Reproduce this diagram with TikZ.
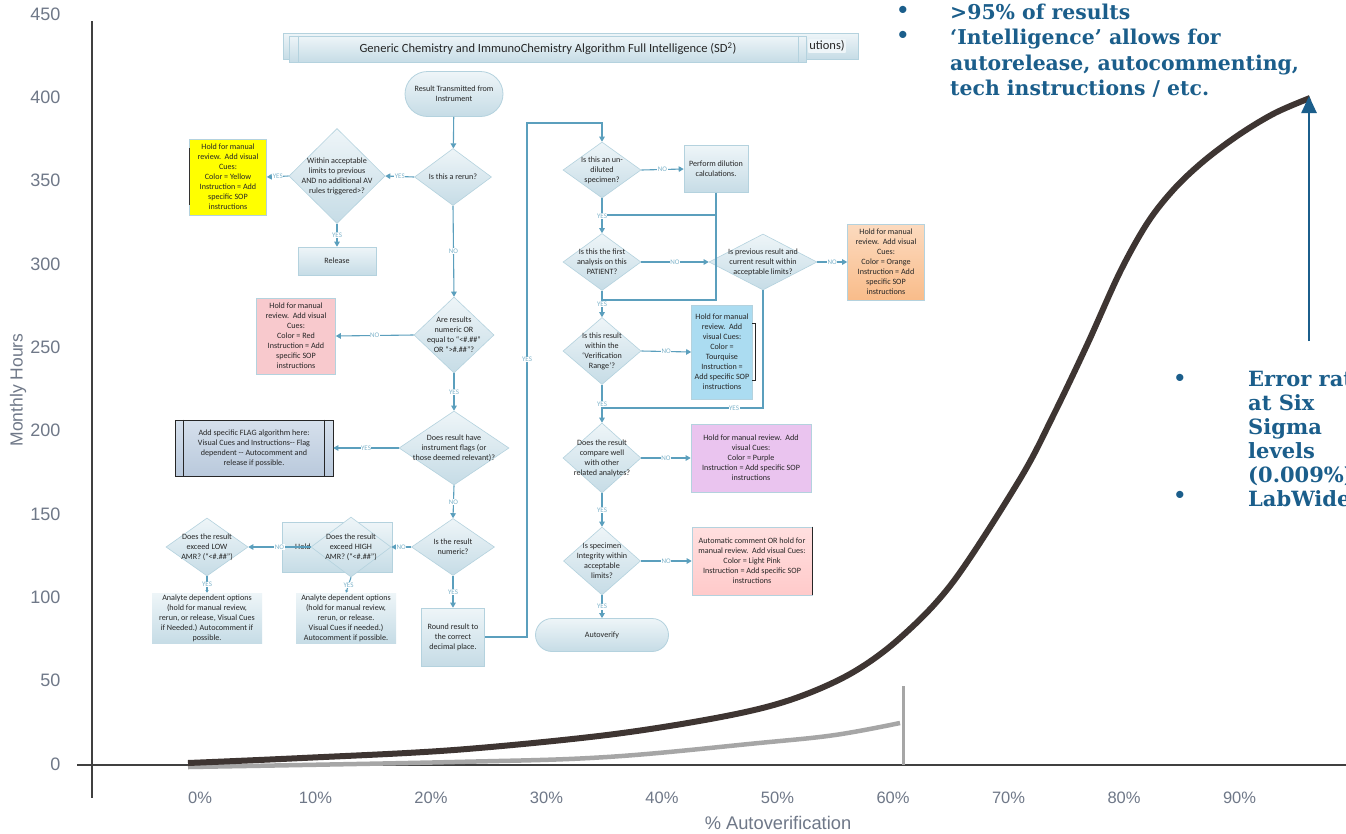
\documentclass[tikz,border=0pt]{standalone}
\usepackage{fontspec}
\usepackage{xcolor}
\usetikzlibrary{shapes.geometric, shapes.misc, arrows.meta, positioning, calc}
\newfontfamily\flowfont{Carlito}
\newfontfamily\axisfont{Liberation Sans}
\newfontfamily\notefont{DejaVu Serif}
\definecolor{flowblue}{HTML}{5B9FBD}
\definecolor{yesblue}{HTML}{7DB3CA}
\definecolor{shadetop}{HTML}{EEF5F8}
\definecolor{shadebot}{HTML}{C6DCE6}
\definecolor{shapeline}{HTML}{B4D2DE}
\definecolor{notecolor}{HTML}{1B5E8B}
\definecolor{curvedark}{HTML}{3E3532}
\definecolor{curvegray}{HTML}{A6A6A6}
\definecolor{ticktext}{HTML}{6F7888}
\definecolor{cueyellow}{HTML}{FFFF00}
\definecolor{cuered}{HTML}{F8C9CD}
\definecolor{cueorange}{HTML}{F9BC8A}
\definecolor{cueturq}{HTML}{ABDCF1}
\definecolor{cuepurple}{HTML}{EAC4EF}
\definecolor{cuepink}{HTML}{FFCACA}
\definecolor{flagtop}{HTML}{D6E0EC}
\definecolor{flagbot}{HTML}{B9C9DC}

\begin{document}
\begin{tikzpicture}[x=1pt, y=-1pt,
  decision/.style={diamond, draw=shapeline, line width=0.6pt, top color=shadetop, bottom color=shadebot, inner sep=0pt},
  dtext/.style={font=\flowfont\fontsize{8.1}{10}\selectfont, align=center, text=black!85, inner sep=0pt},
  procbox/.style={rectangle, draw=shapeline, line width=0.6pt, top color=shadetop, bottom color=shadebot, align=center, font=\flowfont\fontsize{8.1}{10}\selectfont, text=black!85, inner sep=1pt},
  cuebox/.style={rectangle, draw=shapeline, line width=0.6pt, align=center, font=\flowfont\fontsize{8.1}{10}\selectfont, text=black!85, inner sep=1pt},
  terminal/.style={rounded rectangle, draw=shapeline, line width=0.8pt, top color=shadetop, bottom color=shadebot, align=center, font=\flowfont\fontsize{8.1}{10}\selectfont, text=black!85, inner sep=1pt},
  flow/.style={draw=flowblue, line width=1.1pt, -{Triangle[length=5pt, width=5.5pt]}},
  flowline/.style={draw=flowblue, line width=1.1pt},
  yn/.style={fill=white, text=yesblue, font=\flowfont\fontsize{7}{7}\selectfont, inner sep=0.5pt},
  axisline/.style={draw=black!75, line width=1.3pt},
  ytick/.style={anchor=east, text=ticktext, font=\axisfont\fontsize{18}{20}\selectfont},
  xtick/.style={text=ticktext, font=\axisfont\fontsize{16.5}{19}\selectfont},
  note/.style={text=notecolor, font=\notefont\bfseries\fontsize{20.4}{25.4}\selectfont, align=left, inner sep=0pt}
]
  \useasboundingbox (0,0) rectangle (1346,833);
  \fill[white] (0,0) rectangle (1346,833);
  \clip (0,0) rectangle (1346,833);

  % Chart axes
  \draw[axisline] (92,21) -- (92,798);
  \draw[axisline] (77,765) -- (1346,765);
  \foreach \v [count=\i from 0] in {0,50,...,450}
    \node[ytick] (ytick\i) at (64, {764-\v*1.6667}) {\v};
  \foreach \p [count=\i from 0] in {0,10,...,90}
    \node[xtick] (xtick\i) at ({200+\p*11.55}, 798) {\p\%};
  \node[xtick, font=\axisfont\fontsize{18.3}{20}\selectfont] (xtitle) at (778,823) {\% Autoverification};
  \node[xtick, rotate=90, font=\axisfont\fontsize{17.5}{20}\selectfont] (ytitle) at (18,390) {Monthly Hours};

  % Curves
  \draw[curvegray, line width=4.5pt] plot[smooth, tension=0.6] coordinates {(188,767) (454,762) (607,757) (759,743) (835,735) (900,723)};
  \draw[curvegray, line width=3pt] (903,686) -- (903,765);
  \draw[curvedark, line width=6pt] plot[smooth, tension=0.55] coordinates {(188,763) (302,758) (454,750) (607,735) (721,717) (790,700) (850,674) (900,638) (953,582) (1020,479) (1053,416) (1087,345) (1120,272) (1148,222) (1175,188) (1205,160) (1240,134) (1275,113) (1310,98)};

  % Notes
  \coordinate (arrowfoot) at (1309,341);
  \coordinate (curvetop) at (1309,96);
  \draw[notecolor, line width=2.5pt, -{Triangle[length=17pt, width=15pt]}] (arrowfoot) -- (curvetop);
  \node[note, anchor=north west] (notetop) at (950,3.5) {>95\% of results\\‘Intelligence’ allows for\\autorelease, autocommenting,\\tech instructions / etc.};
  \node[note] (bulletA) at (903,12) {•};
  \node[note] (bulletB) at (903,37) {•};
  \node[note, font=\notefont\bfseries\fontsize{21}{24}\selectfont, anchor=north west] (noteright) at (1248,371) {Error rate\\at Six\\Sigma\\levels\\(0.009\%)\\LabWide};
  \node[note] (bulletC) at (1180,380) {•};
  \node[note] (bulletD) at (1180,497) {•};

  % Title bars
  \node[procbox, minimum width=575pt, minimum height=26pt] (titleback) at (571,46) {};
  \node[procbox, anchor=east, draw=none, top color=shadetop, bottom color=shadetop, font=\flowfont\fontsize{12.5}{14}\selectfont] (titletail) at (846,46) {utions)};
  \node[procbox, minimum width=517pt, minimum height=26pt, font=\flowfont\fontsize{12.5}{14}\selectfont] (title) at (548,49) {Generic Chemistry and ImmunoChemistry Algorithm Full Intelligence (SD\textsuperscript{2})};
  \draw[shapeline] ([xshift=9pt]title.north west) -- ([xshift=9pt]title.south west);
  \draw[shapeline] ([xshift=-9pt]title.north east) -- ([xshift=-9pt]title.south east);

  % Left column
  \node[terminal, minimum width=100pt, minimum height=45pt] (start) at (454,94) {Result Transmitted from\\Instrument};
  \node[decision, minimum width=77pt, minimum height=57pt, label={[dtext]center:{Is this a rerun?}}] (rerun) at (453,177) {};
  \node[decision, minimum width=96pt, minimum height=95pt, label={[dtext]center:{Within acceptable\\limits to previous\\AND no additional AV\\rules triggered>?}}] (within) at (337,176) {};
  \node[cuebox, fill=cueyellow, minimum width=77pt, minimum height=76pt] (yellow) at (228,177) {Hold for manual\\review.\ \ Add visual\\Cues:\\Color = Yellow\\Instruction = Add\\specific SOP\\instructions};
  \draw[black!80, line width=0.8pt] (189,148) -- (189,205);
  \node[procbox, minimum width=78pt, minimum height=28pt] (release) at (337,261) {Release};
  \node[decision, minimum width=80pt, minimum height=76pt, label={[dtext]center:{Are results\\numeric OR\\equal to “<\#.\#\#”\\OR “>\#.\#\#”?}}] (numor) at (454,335) {};
  \node[cuebox, fill=cuered, minimum width=79pt, minimum height=76pt] (red) at (296,336) {Hold for manual\\review.\ \ Add visual\\Cues:\\Color = Red\\Instruction = Add\\specific SOP\\instructions};
  \node[decision, minimum width=110pt, minimum height=74pt, label={[dtext]center:{Does result have\\instrument flags (or\\those deemed relevant)?}}] (flags) at (454,448) {};
  \node[procbox, draw=black!85, top color=flagtop, bottom color=flagbot, minimum width=158pt, minimum height=56pt] (flagbox) at (254,448) {Add specific FLAG algorithm here:\\Visual Cues and Instructions-- Flag\\dependent -- Autocomment and\\release if possible.};
  \draw[black!85, line width=0.6pt] ([xshift=9pt]flagbox.north west) -- ([xshift=9pt]flagbox.south west);
  \draw[black!85, line width=0.6pt] ([xshift=-9pt]flagbox.north east) -- ([xshift=-9pt]flagbox.south east);
  \node[decision, minimum width=83pt, minimum height=57pt, label={[dtext]center:{Is the result\\numeric?}}] (numeric) at (453,547) {};
  \node[procbox, minimum width=63pt, minimum height=58pt] (round) at (453,637) {Round result to\\the correct\\decimal place.};
  \node[procbox, minimum width=110pt, minimum height=50pt] (holdback) at (337,547) {};
  \node[dtext, anchor=west] (holdtext) at (295,547) {Hold};
  \node[decision, minimum width=80pt, minimum height=60pt, label={[dtext]center:{Does the result\\exceed HIGH\\AMR? (“<\#.\#\#”)}}] (high) at (351,547) {};
  \node[decision, minimum width=82pt, minimum height=58pt, label={[dtext]center:{Does the result\\exceed LOW\\AMR? (“<\#.\#\#”)}}] (low) at (207,547) {};
  \node[procbox, draw=none, minimum width=110pt, minimum height=50pt] (lowopt) at (207,618) {Analyte dependent options\\(hold for manual review,\\rerun, or release, Visual Cues\\if Needed.) Autocomment if\\possible.};
  \node[procbox, draw=none, minimum width=100pt, minimum height=50pt] (highopt) at (346,618) {Analyte dependent options\\(hold for manual review,\\rerun, or release.\\Visual Cues if needed.)\\Autocomment if possible.};

  % Right column
  \node[decision, minimum width=78pt, minimum height=56pt, label={[dtext]center:{Is this an un-\\diluted\\specimen?}}] (undil) at (602,170) {};
  \node[procbox, minimum width=64pt, minimum height=47pt] (dilut) at (716,169) {Perform dilution\\calculations.};
  \node[decision, minimum width=78pt, minimum height=57pt, label={[dtext]center:{Is this the first\\analysis on this\\PATIENT?}}] (first) at (602,262) {};
  \node[decision, minimum width=108pt, minimum height=56pt, label={[dtext]center:{Is previous result and\\current result within\\acceptable limits?}}] (prev) at (763,262) {};
  \node[cuebox, top color=cueorange!55, bottom color=cueorange, minimum width=77pt, minimum height=76pt] (orange) at (886,262) {Hold for manual\\review.\ \ Add visual\\Cues:\\Color = Orange\\Instruction = Add\\specific SOP\\instructions};
  \node[decision, minimum width=78pt, minimum height=67pt, label={[dtext]center:{Is this result\\within the\\‘Verification\\Range’?}}] (verif) at (602,351) {};
  \node[cuebox, fill=cueturq, minimum width=61pt, minimum height=94pt] (turq) at (722,352) {Hold for manual\\review.\ \ Add\\visual Cues:\\Color =\\Tourquise\\Instruction =\\Add specific SOP\\instructions};
  \draw[black!85, line width=0.7pt] (752,323) -- (755,323) -- (755,380) -- (752,380);
  \node[decision, minimum width=78pt, minimum height=70pt, label={[dtext]center:{Does the result\\compare well\\with other\\related analytes?}}] (compare) at (602,458) {};
  \node[cuebox, fill=cuepurple, minimum width=120pt, minimum height=68pt] (purple) at (751,458) {Hold for manual review.\ \ Add\\visual Cues:\\Color = Purple\\Instruction = Add specific SOP\\instructions};
  \node[decision, minimum width=77pt, minimum height=68pt, label={[dtext]center:{Is specimen\\Integrity within\\acceptable\\limits?}}] (integ) at (602,561) {};
  \node[cuebox, top color=cuepink!60, bottom color=cuepink, minimum width=120pt, minimum height=68pt] (pink) at (752,561) {Automatic comment OR hold for\\manual review.\ \ Add visual Cues:\\Color = Light Pink\\Instruction = Add specific SOP\\instructions};
  \draw[black!85, line width=0.9pt] (pink.north east) -- (pink.south east);
  \node[terminal, minimum width=135pt, minimum height=33pt] (autov) at (602,635) {Autoverify};

  % Connectors, left column
  \draw[flow] (start) -- (rerun);
  \draw[flow] (rerun.west) -- node[yn]{YES} (within.east);
  \draw[flow] (within.west) -- node[yn]{YES} (yellow.east);
  \draw[flow] (within.south) -- node[yn]{YES} (release.north);
  \draw[flow] (rerun.south) -- node[yn]{NO} (numor.north);
  \draw[flow] (numor.west) -- node[yn]{NO} (red.east);
  \draw[flow] (numor.south) -- node[yn]{YES} (flags.north);
  \draw[flow] (flags.west) -- node[yn]{YES} (flagbox.east);
  \draw[flow] (flags.south) -- node[yn]{NO} (numeric.north);
  \draw[flow] (numeric.south) -- node[yn]{YES} (round.north);
  \draw[flow] (numeric.west) -- node[yn]{NO} (high.east);
  \draw[flow] (high.west) -- node[yn]{NO} (low.east);
  \draw[flow, -{Triangle[length=2.5pt, width=3pt]}] (low.south) -- node[yn]{YES} (lowopt.north);
  \draw[flow, -{Triangle[length=2.5pt, width=3pt]}] (high.south) -- node[yn]{YES} (highopt.north);

  % Connectors, right column
  \coordinate (looptop) at (527,123);
  \draw[flow] (round.east) -| node[yn, pos=0.77]{YES} (looptop) -| (undil.north);
  \draw[flow] (undil.east) -- node[yn]{NO} (dilut.west);
  \coordinate (joinA) at (602,215);
  \coordinate (joinB) at (602,300);
  \draw[flowline] (dilut.south) |- (joinA);
  \draw[flowline] (dilut.south) |- (joinB);
  \draw[flow] (undil.south) -- node[yn]{YES} (first.north);
  \draw[flow] (first.east) -- node[yn]{NO} (prev.west);
  \draw[flow] (prev.east) -- node[yn]{NO} (orange.west);
  \draw[flow] (first.south) -- node[yn]{YES} (verif.north);
  \draw[flow] (verif.east) -- node[yn]{NO} (turq.west);
  \coordinate (joinC) at (602,408);
  \draw[flowline] (prev.south) |- node[yn, pos=0.59]{YES} (joinC);
  \draw[flow] (verif.south) -- node[yn]{YES} (compare.north);
  \draw[flow] (compare.east) -- node[yn]{NO} (purple.west);
  \draw[flow] (compare.south) -- node[yn]{YES} (integ.north);
  \draw[flow] (integ.east) -- node[yn]{NO} (pink.west);
  \draw[flow] (integ.south) -- node[yn]{YES} (autov.north);
\end{tikzpicture}
\end{document}
